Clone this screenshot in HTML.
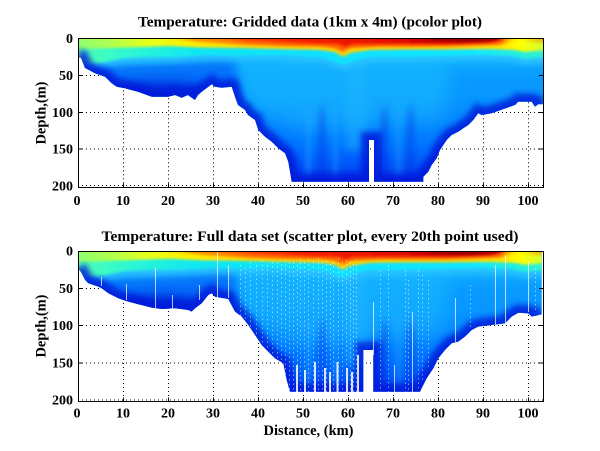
<!DOCTYPE html>
<html><head><meta charset="utf-8"><style>
html,body{margin:0;padding:0;background:#fff;}
svg{display:block;}
text{font-family:"Liberation Serif","Times New Roman",serif;font-weight:bold;fill:#000;}
</style></head><body>
<svg width="600" height="451" viewBox="0 0 600 451" xmlns="http://www.w3.org/2000/svg">
<defs>
<linearGradient id="baseG" gradientUnits="userSpaceOnUse" x1="0" y1="38" x2="0" y2="182">
<stop offset="0" stop-color="#30d8ff"/><stop offset=".07" stop-color="#20c8ff"/><stop offset=".12" stop-color="#18bcff"/><stop offset=".22" stop-color="#10b0ff"/><stop offset=".43" stop-color="#0ca4ff"/><stop offset=".56" stop-color="#0890ff"/><stop offset=".74" stop-color="#0074ff"/><stop offset=".885" stop-color="#0054f8"/><stop offset="1" stop-color="#0034e8"/>
</linearGradient>
<linearGradient id="cyanG" gradientUnits="userSpaceOnUse" x1="78" y1="0" x2="543" y2="0">
<stop offset="0" stop-color="#50ffb0"/><stop offset=".1" stop-color="#30f8d0"/><stop offset=".25" stop-color="#10e8f0"/><stop offset=".5" stop-color="#10e0ff"/><stop offset=".85" stop-color="#10e8ff"/><stop offset="1" stop-color="#30f0d0"/>
</linearGradient>
<linearGradient id="yelG" gradientUnits="userSpaceOnUse" x1="78" y1="0" x2="543" y2="0">
<stop offset="0" stop-color="#90ff70"/><stop offset=".069" stop-color="#b0ff50"/><stop offset=".155" stop-color="#e8ff18"/><stop offset=".24" stop-color="#ffee00"/><stop offset=".37" stop-color="#ffd800"/><stop offset=".585" stop-color="#ffd000"/><stop offset=".8" stop-color="#ffd000"/><stop offset=".918" stop-color="#ffe800"/><stop offset=".95" stop-color="#ffff00"/><stop offset="1" stop-color="#d0ff30"/>
</linearGradient>
<linearGradient id="orgG" gradientUnits="userSpaceOnUse" x1="78" y1="0" x2="543" y2="0">
<stop offset="0" stop-color="#ffa000" stop-opacity="0"/><stop offset=".19" stop-color="#ffa000" stop-opacity="0"/><stop offset=".25" stop-color="#ff9000" stop-opacity=".9"/><stop offset=".37" stop-color="#ff7000"/><stop offset=".585" stop-color="#ff6000"/><stop offset=".8" stop-color="#ff5000"/><stop offset=".908" stop-color="#ff7000"/><stop offset=".933" stop-color="#ffa000" stop-opacity=".3"/><stop offset=".95" stop-color="#ffa000" stop-opacity="0"/><stop offset=".976" stop-color="#ff9000" stop-opacity=".4"/><stop offset="1" stop-color="#ff8000" stop-opacity=".6"/>
</linearGradient>
<linearGradient id="redG" gradientUnits="userSpaceOnUse" x1="78" y1="0" x2="543" y2="0">
<stop offset="0" stop-color="#ff3000" stop-opacity="0"/><stop offset=".27" stop-color="#ff3000" stop-opacity="0"/><stop offset=".37" stop-color="#ff3000" stop-opacity=".85"/><stop offset=".477" stop-color="#f52000"/><stop offset=".65" stop-color="#e81000"/><stop offset=".757" stop-color="#d00000"/><stop offset=".843" stop-color="#b80000"/><stop offset=".897" stop-color="#d80000"/><stop offset=".925" stop-color="#e00000" stop-opacity="0"/><stop offset="1" stop-color="#d00000" stop-opacity="0"/>
</linearGradient>
<filter id="b8" x="-50%" y="-50%" width="200%" height="200%"><feGaussianBlur stdDeviation="8"/></filter>
<filter id="b5" x="-50%" y="-50%" width="200%" height="200%"><feGaussianBlur stdDeviation="5"/></filter>
<filter id="b4" x="-50%" y="-50%" width="200%" height="200%"><feGaussianBlur stdDeviation="4"/></filter>
<filter id="b3" x="-20%" y="-20%" width="140%" height="140%"><feGaussianBlur stdDeviation="3"/></filter>
<filter id="b2" x="-50%" y="-20%" width="200%" height="140%"><feGaussianBlur stdDeviation="2 6"/></filter>
<filter id="bb" x="-10%" y="-50%" width="120%" height="200%"><feGaussianBlur stdDeviation="2 1.2"/></filter>
<filter id="bc" x="-10%" y="-50%" width="120%" height="200%"><feGaussianBlur stdDeviation="2 3"/></filter>
<clipPath id="clipTop"><polygon points="78,38.3 78,57 81,58 85,68 95,73.3 105,76.7 111.7,83.3 116.7,86.7 125,88.3 138,91.7 151.7,96.7 168.3,96.7 175,95 181.7,97.7 188,95 191.7,97.7 195,100 198,95 201.7,91.7 211.7,84.3 215,86.7 221.7,87.7 231.7,86.7 235,96.7 238,105 245,110 248,115 255,120 258.3,130 265,136.7 271.7,141.7 278.3,148.3 285,153.3 288.3,161.7 291.7,181.7 369,181.7 369,140 374,140 374,181.7 423.3,181.7 423.3,176.7 428.3,171.7 431.7,165 436.7,158.3 440,150 446.7,140 451.7,135 458.3,131.7 463.3,128.3 468.3,125 473.3,120 478.3,113.3 481.7,115 491.7,113.3 515,105 518.3,101.7 531.7,101.7 535,106.7 538.3,104.3 543.3,104.3 543.3,38.3"/></clipPath>
<clipPath id="clipBot"><polygon points="78,38.3 78,55.4 81.7,60.3 85,66.9 88.3,70.2 98.3,73.5 101.7,75.1 108.3,80.1 118.3,85 125,87.4 138.3,90.9 151.7,94.3 161.7,95.6 175,94.9 188.3,96.6 191.7,98.2 195,94.9 201.7,90 208.3,81.8 211.7,80.1 215,83.5 228.3,85.7 235,98.2 241.7,103.2 248.3,111.4 255,121.3 261.7,131.2 268.3,137.9 275,144.4 283.3,149.3 286.7,165.8 290,177.4 363.3,177.4 363.3,136.2 373.3,136.2 373.3,177.4 420,177.4 421.7,174 426.7,164.1 433.3,154.3 438.3,144.4 445,136.2 451.7,129.5 458.3,127.9 465,123 471.7,116.4 478.3,113.1 491.7,111.4 505,109.8 511.7,103.2 518.3,99.3 528.3,99.9 531.7,103.2 541.7,100.9 541.7,38.3"/></clipPath>
<g id="field">
<rect x="60" y="20" width="500" height="175" fill="url(#baseG)"/>
<polygon points="240,60 450,60 440,120 300,130 250,100" fill="#18b0ff" opacity=".5" filter="url(#b8)"/>
<rect x="345" y="60" width="22" height="90" fill="#20b8ff" opacity=".45" filter="url(#b4)"/>
<g filter="url(#b2)">
<rect x="305" y="105" width="7" height="75" fill="#20a8ff" opacity=".35"/>
<rect x="318" y="110" width="8" height="75" fill="#0030e0" opacity=".3"/>
<rect x="332" y="105" width="7" height="75" fill="#20a8ff" opacity=".3"/>
<rect x="380" y="110" width="9" height="75" fill="#0030e0" opacity=".3"/>
<rect x="395" y="100" width="7" height="80" fill="#20a8ff" opacity=".3"/>
<rect x="406" y="110" width="9" height="75" fill="#0030e0" opacity=".3"/>
</g>
<polygon points="450,65 560,65 560,110 450,130" fill="#0078ff" opacity=".35" filter="url(#b8)"/>
<polygon points="60,66 235,60 240,105 60,100" fill="#0058f8" opacity=".7" filter="url(#b5)"/>
<ellipse cx="160" cy="90" rx="48" ry="9" fill="#0020d8" opacity=".8" filter="url(#b5)"/>
<path d="M60,20 L560,20 L560,63 L535,64 L525,65 L510,61 L480,60 L440,61 L400,62 L370,63 L352,66 L345,70 L338,68 L325,63 L300,62 L270,60 L240,61 L210,60 L180,62 L150,63 L125,64 L110,66 L95,68 L78,67 L60,67 Z" fill="#30c8ff" opacity=".7" filter="url(#bc)"/>
<path d="M60,20 L560,20 L560,57 L550,57 L535,58 L525,59 L510,56 L480,55 L440,56 L400,57 L370,57 L352,61 L345,65 L338,63 L325,58 L300,56 L270,55 L240,56 L210,55 L180,57 L150,57 L125,58 L110,61 L95,64 L78,63 L60,63 Z" fill="url(#cyanG)" filter="url(#bb)"/>
<path d="M60,20 L560,20 L560,50 L550,50 L535,51 L525,52 L515,50 L490,49 L450,49.5 L410,49.5 L370,50 L350,53 L343,57 L335,52 L320,50 L280,49 L240,48 L200,47.5 L170,46 L140,47 L110,48 L78,49 L60,49 Z" fill="url(#yelG)" filter="url(#bb)"/>
<path d="M60,20 L560,20 L560,43 L530,42 L520,40 L510,42 L500,45 L460,46 L420,46.5 L380,46.5 L350,48 L343,52 L335,48 L320,46.5 L280,46 L240,44.5 L200,42 L180,40 L60,39 Z" fill="url(#orgG)" filter="url(#bb)"/>
<path d="M60,20 L560,20 L560,38 L505,40 L490,42.5 L450,43.5 L400,43.5 L352,44 L345,47 L340,44 L300,43 L250,41 L220,38.5 L60,38 Z" fill="url(#redG)" filter="url(#bb)"/>
<ellipse cx="462" cy="38.5" rx="38" ry="3" fill="#900000" opacity=".7" filter="url(#bb)"/>
</g>
</defs>
<rect x="0" y="0" width="600" height="451" fill="#fff"/>

<!-- ===== TOP PANEL ===== -->
<g stroke="#000" stroke-width="1" stroke-dasharray="1 3" fill="none">
<path d="M123.5,38.3V187.7M168.5,38.3V187.7M213.5,38.3V187.7M258.5,38.3V187.7M303.5,38.3V187.7M348.5,38.3V187.7M393.5,38.3V187.7M438.5,38.3V187.7M483.5,38.3V187.7M528.5,38.3V187.7"/>
<path d="M78,75.5H543.3M78,112.5H543.3M78,149H543.3M78,185.5H543.3"/>
</g>
<g clip-path="url(#clipTop)">
<use href="#field"/>
<path d="M78,57 L81,58 85,68 95,73.3 105,76.7 111.7,83.3 116.7,86.7 125,88.3 138,91.7 151.7,96.7 168.3,96.7 175,95 181.7,97.7 188,95 191.7,97.7 195,100 198,95 201.7,91.7 211.7,84.3 215,86.7 221.7,87.7 231.7,86.7 235,96.7 238,105 245,110 248,115 255,120 258.3,130 265,136.7 271.7,141.7 278.3,148.3 285,153.3 288.3,161.7 291.7,181.7 369,181.7 369,140 374,140 374,181.7 423.3,181.7 423.3,176.7 428.3,171.7 431.7,165 436.7,158.3 440,150 446.7,140 451.7,135 458.3,131.7 463.3,128.3 468.3,125 473.3,120 478.3,113.3 481.7,115 491.7,113.3 515,105 518.3,101.7 531.7,101.7 535,106.7 538.3,104.3 543.3,104.3" fill="none" stroke="#0018d8" stroke-width="16" opacity=".8" filter="url(#b3)"/>
</g>
<rect x="78.5" y="38.5" width="465" height="149" fill="none" stroke="#000" stroke-width="1"/>
<g stroke="#000" stroke-width="1">
<path d="M123.5,187.5v-4M168.5,187.5v-4M213.5,187.5v-4M258.5,187.5v-4M303.5,187.5v-4M348.5,187.5v-4M393.5,187.5v-4M438.5,187.5v-4M483.5,187.5v-4M528.5,187.5v-4"/>
<path d="M78.5,75.5h4M78.5,112.5h4M78.5,149h4M543,75.5h-4M543,112.5h-4M543,149h-4"/>
</g>
<text x="310" y="26.5" font-size="15" text-anchor="middle" textLength="344" lengthAdjust="spacingAndGlyphs">Temperature: Gridded data (1km x 4m) (pcolor plot)</text>
<g font-size="14" text-anchor="middle">
<text x="77" y="205">0</text><text x="123" y="205">10</text><text x="168" y="205">20</text><text x="213" y="205">30</text><text x="258" y="205">40</text><text x="303" y="205">50</text><text x="348" y="205">60</text><text x="393" y="205">70</text><text x="438" y="205">80</text><text x="483" y="205">90</text><text x="528" y="205">100</text>
</g>
<g font-size="14" text-anchor="end">
<text x="73" y="43">0</text><text x="73" y="80">50</text><text x="73" y="117">100</text><text x="73" y="153.5">150</text><text x="73" y="190.3">200</text>
</g>
<text transform="translate(45.5,113) rotate(-90)" font-size="14.5" text-anchor="middle" textLength="63" lengthAdjust="spacingAndGlyphs">Depth,(m)</text>

<!-- ===== BOTTOM PANEL ===== -->
<g stroke="#000" stroke-width="1" stroke-dasharray="1 3" fill="none">
<path d="M123.5,251V401.5M168.5,251V401.5M213.5,251V401.5M258.5,251V401.5M303.5,251V401.5M348.5,251V401.5M393.5,251V401.5M438.5,251V401.5M483.5,251V401.5M528.5,251V401.5"/>
<path d="M78,288.5H543.3M78,325.5H543.3M78,363H543.3M78,400H543.3"/>
</g>
<g transform="translate(0,251) scale(1,1.0116) translate(0,-38.3)">
<g clip-path="url(#clipBot)">
<use href="#field"/>
<path d="M78,55.4 L81.7,60.3 85,66.9 88.3,70.2 98.3,73.5 101.7,75.1 108.3,80.1 118.3,85 125,87.4 138.3,90.9 151.7,94.3 161.7,95.6 175,94.9 188.3,96.6 191.7,98.2 195,94.9 201.7,90 208.3,81.8 211.7,80.1 215,83.5 228.3,85.7 235,98.2 241.7,103.2 248.3,111.4 255,121.3 261.7,131.2 268.3,137.9 275,144.4 283.3,149.3 286.7,165.8 290,177.4 363.3,177.4 363.3,136.2 373.3,136.2 373.3,177.4 420,177.4 421.7,174 426.7,164.1 433.3,154.3 438.3,144.4 445,136.2 451.7,129.5 458.3,127.9 465,123 471.7,116.4 478.3,113.1 491.7,111.4 505,109.8 511.7,103.2 518.3,99.3 528.3,99.9 531.7,103.2 541.7,100.9" fill="none" stroke="#0018d8" stroke-width="16" opacity=".8" filter="url(#b3)"/>
</g>
</g>
<!-- white streaks -->
<g stroke="#fff" stroke-width="1" opacity=".7" fill="none">
<path d="M101.5,277V286M126.5,284V300M155.5,268V308M172.5,295V310M199.5,285V300M217.5,251V298M228.5,265V298M373.5,302V355M394.5,365V392M412.5,312V392M455.5,298V342M495.5,265V325M505.5,255V325M528.5,262V312"/>
</g>
<g stroke="#fff" stroke-width="1" stroke-dasharray="1.5 3" opacity=".5" fill="none">
<path d="M240.5,265V318M245.5,268V322M250.5,262V328M256.5,265V336M262.5,260V345M267.5,265V350M272.5,262V355M277.5,262V360M281.5,264V362M285.5,260V375M289.5,262V390M293.5,262V392M297.5,265V392M300.5,258V392M304.5,262V392M308.5,260V392M313.5,262V392M318.5,258V392M322.5,262V392M326.5,260V392M330.5,264V392M333.5,262V392M338.5,258V392M342.5,262V392M346.5,260V392M350.5,262V392M353.5,264V392M356.5,260V392M380.5,270V392M388.5,265V392M405.5,270V392M408.5,280V392M418.5,270V388M422.5,275V380M428.5,280V370M470.5,285V328M535.5,268V312"/>
</g>
<g stroke="#fff" stroke-width="2" opacity=".85" fill="none">
<path d="M297,365V392M305,370V392M315,362V392M325,368V392M330,372V392M337.5,362V392M347,368V392M352,372V392M358,355V392"/>
</g>
<rect x="78.5" y="251.5" width="465" height="150" fill="none" stroke="#000" stroke-width="1"/>
<g stroke="#000" stroke-width="1">
<path d="M123.5,401.5v-4M168.5,401.5v-4M213.5,401.5v-4M258.5,401.5v-4M303.5,401.5v-4M348.5,401.5v-4M393.5,401.5v-4M438.5,401.5v-4M483.5,401.5v-4M528.5,401.5v-4"/>
<path d="M78.5,288.5h4M78.5,325.5h4M78.5,363h4M543,288.5h-4M543,325.5h-4M543,363h-4"/>
</g>
<text x="310" y="241" font-size="15" text-anchor="middle" textLength="417" lengthAdjust="spacingAndGlyphs">Temperature: Full data set (scatter plot, every 20th point used)</text>
<g font-size="14" text-anchor="middle">
<text x="77" y="417.3">0</text><text x="123" y="417.3">10</text><text x="168" y="417.3">20</text><text x="213" y="417.3">30</text><text x="258" y="417.3">40</text><text x="303" y="417.3">50</text><text x="348" y="417.3">60</text><text x="393" y="417.3">70</text><text x="438" y="417.3">80</text><text x="483" y="417.3">90</text><text x="528" y="417.3">100</text>
</g>
<g font-size="14" text-anchor="end">
<text x="73" y="255.7">0</text><text x="73" y="293">50</text><text x="73" y="330.2">100</text><text x="73" y="367.5">150</text><text x="73" y="404.7">200</text>
</g>
<text transform="translate(45.5,326) rotate(-90)" font-size="14.5" text-anchor="middle" textLength="63" lengthAdjust="spacingAndGlyphs">Depth,(m)</text>
<text x="308.5" y="435" font-size="14.5" text-anchor="middle" textLength="90" lengthAdjust="spacingAndGlyphs">Distance, (km)</text>
</svg>
</body></html>
